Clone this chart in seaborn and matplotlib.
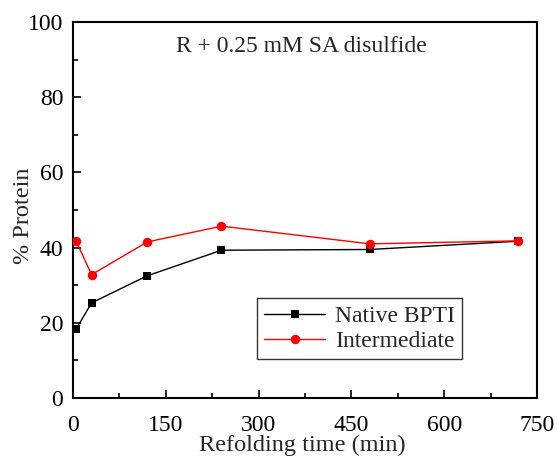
import matplotlib
matplotlib.use("Agg")
import matplotlib.pyplot as plt
from matplotlib.ticker import MultipleLocator
import seaborn as sns
import pandas as pd

# Refolding time course (min) and percent protein for each species
time_min = [5, 30, 120, 240, 480, 720]
native_bpti = [18.3, 25.3, 32.5, 39.3, 39.5, 41.7]
intermediate = [41.8, 32.8, 41.5, 45.7, 41.0, 41.8]
series_names = ["Native BPTI", "Intermediate"]

df = pd.DataFrame({
    "time": time_min * 2,
    "protein": native_bpti + intermediate,
    "series": [series_names[0]] * len(time_min) + [series_names[1]] * len(time_min),
})

sns.set_style("ticks")
plt.rcParams["font.family"] = ["Liberation Serif", "DejaVu Serif"]
plt.rcParams["mathtext.fontset"] = "stix"

fig = plt.figure(figsize=(5.57, 4.57), dpi=100)
ax = fig.add_axes([73 / 557, 1 - 398 / 457, (537 - 73) / 557, (398 - 22) / 457])

sns.lineplot(
    data=df, x="time", y="protein", hue="series", style="series",
    palette={"Native BPTI": "black", "Intermediate": "red"},
    markers={"Native BPTI": "s", "Intermediate": "o"},
    dashes=False, markersize=6.8, linewidth=1.0, markeredgewidth=0,
    ax=ax,
)
# squares a touch smaller than circles; red series drawn on top
for ln in ax.lines:
    if ln.get_marker() == "s":
        ln.set_markersize(5.8)
        ln.set_zorder(2)
    elif ln.get_marker() == "o":
        ln.set_zorder(3)

ax.set_xlim(0, 750)
ax.set_ylim(0, 100)
ax.xaxis.set_major_locator(MultipleLocator(150))
ax.xaxis.set_minor_locator(MultipleLocator(75))
ax.yaxis.set_major_locator(MultipleLocator(20))
ax.yaxis.set_minor_locator(MultipleLocator(10))
ax.tick_params(which="both", direction="in", top=False, right=False,
               labelsize=17, width=1.2, colors="black")
ax.tick_params(axis="x", which="major", length=6, pad=12)
ax.tick_params(axis="y", which="major", length=6, pad=7)
ax.tick_params(which="minor", length=3.5)
for s in ax.spines.values():
    s.set_linewidth(1.5)
    s.set_color("black")
    s.set_visible(True)

ax.set_xlabel("Refolding time (min)", fontsize=17.5)
ax.set_ylabel("% Protein", fontsize=17.5)
ax.xaxis.set_label_coords(0.494, -0.098)
ax.yaxis.set_label_coords(-0.085, 0.484)
ax.text(0.493, 0.935, "R + 0.25 mM SA disulfide", transform=ax.transAxes,
        ha="center", va="center", fontsize=17)

handles, labels = ax.get_legend_handles_labels()
for h in handles:
    if h.get_marker() == "s":
        h.set_markersize(5.8)
leg = ax.legend(handles, labels, loc="lower left",
                bbox_to_anchor=((257 - 73) / 464, (398 - 359) / 376),
                fontsize=17, frameon=True, fancybox=False, edgecolor="black",
                handlelength=2.6, borderpad=0.3, labelspacing=0.15,
                handletextpad=0.4, borderaxespad=0)
leg.get_frame().set_linewidth(1.0)
leg.set_zorder(5)

fig.savefig("out.png", dpi=100)
